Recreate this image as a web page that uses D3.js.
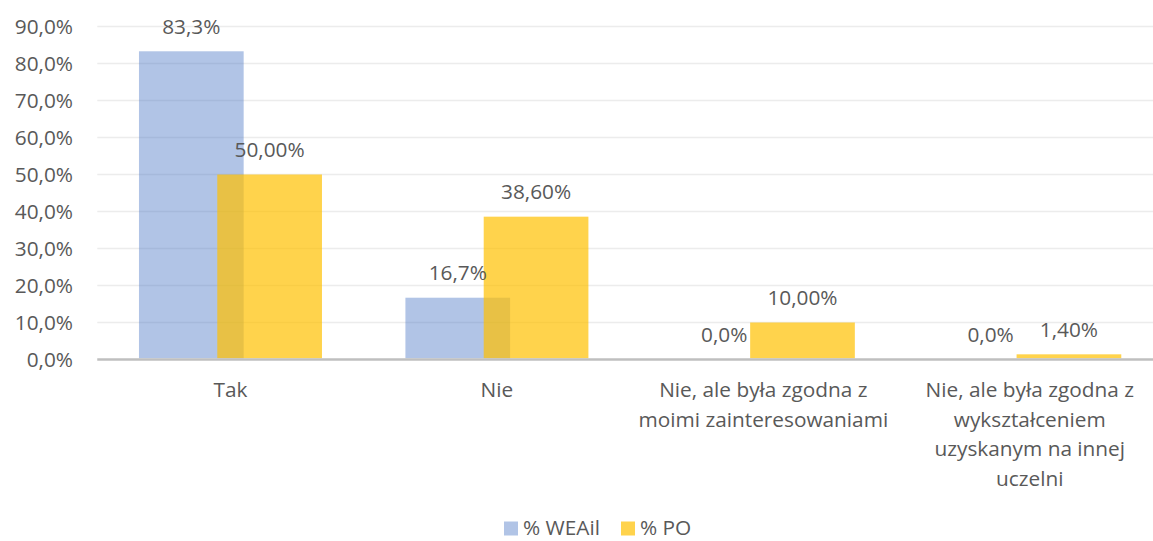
<!DOCTYPE html>
<html><head><meta charset="utf-8">
<script src="https://cdn.jsdelivr.net/npm/d3@7"></script>
<style>body{margin:0;background:#fff}svg{display:block}text{font-family:"Open Sans",sans-serif;fill:#595959}</style>
</head><body><svg id="c" width="1153" height="541"></svg>
<script>
const categories = [["Tak"],["Nie"],["Nie, ale była zgodna z","moimi zainteresowaniami"],["Nie, ale była zgodna z","wykształceniem","uzyskanym na innej","uczelni"]];
const seriesNames = ["% WEAil","% PO"];
const weail = [83.3,16.7,0.0,0.0];
const po = [50.0,38.6,10.0,1.4];
const yTicks = [0,10,20,30,40,50,60,70,80,90];
const FS = 20.8;
const svg = d3.select("#c");
const left = 97.25, right = 1163, y0 = 359.5, yTop = 26.5;
const x = d3.scaleBand().domain(d3.range(categories.length)).range([left,right]).padding(0);
const y = d3.scaleLinear().domain([0,90]).range([y0,yTop]);
const fmt1 = v => v.toFixed(1).replace(".",",")+"%";
const fmt2 = v => v.toFixed(2).replace(".",",")+"%";
// grid
svg.append("g").selectAll("line").data(yTicks.slice(1)).join("line")
 .attr("x1",left).attr("x2",right).attr("y1",d=>y(d)).attr("y2",d=>y(d))
 .attr("stroke","#ececec").attr("stroke-width",1.3);
// y axis labels
const yAxis = d3.axisLeft(y).tickValues(yTicks).tickFormat(fmt1).tickSize(0).tickPadding(0);
const ga = svg.append("g").attr("transform",`translate(${73},0)`).call(yAxis);
ga.select(".domain").remove();
ga.selectAll("text").attr("font-size",FS).attr("font-family","Open Sans").attr("fill","#595959");
const bw = 104.7, off = 39.15;
const series = [{vals:weail,color:"#4472C4",op:0.42,dx:-off,f:fmt1},{vals:po,color:"#FFC000",op:0.7,dx:off,f:fmt2}];
series.forEach(s=>{
  svg.append("g").selectAll("rect").data(s.vals).join("rect")
   .attr("x",(d,i)=>x(i)+x.bandwidth()/2+s.dx-bw/2).attr("width",bw)
   .attr("y",d=>y(d)).attr("height",d=>y0-1.2-y(d)).attr("fill",s.color).attr("fill-opacity",s.op);
});
series.forEach(s=>{
  svg.append("g").selectAll("text").data(s.vals).join("text")
   .attr("x",(d,i)=>x(i)+x.bandwidth()/2+s.dx).attr("y",d=>y(d)-24.5).attr("dy","0.35em")
   .attr("text-anchor","middle").attr("font-size",FS).text(d=>s.f(d));
});
// x axis line
svg.append("line").attr("x1",left).attr("x2",right).attr("y1",y0).attr("y2",y0).attr("stroke","#bfbfbf").attr("stroke-width",2.5);
// category labels
const cl = svg.append("g").selectAll("text").data(categories).join("text")
 .attr("x",(d,i)=>x(i)+x.bandwidth()/2).attr("y",390).attr("text-anchor","middle").attr("font-size",FS);
cl.selectAll("tspan").data(d=>d).join("tspan").attr("x",function(){return this.parentNode.getAttribute("x");})
 .attr("dy",(d,i)=>i===0?"0.35em":"29.6px").text(d=>d);
// legend
const lg = svg.append("g");
const lx = [504,621];
series.forEach((s,i)=>{
  lg.append("rect").attr("x",lx[i]).attr("y",521.5).attr("width",14).attr("height",14).attr("fill",s.color).attr("fill-opacity",s.op);
  lg.append("text").attr("x",lx[i]+19).attr("y",528).attr("dy","0.35em").attr("font-size",FS).text(seriesNames[i]);
});
</script></body></html>
